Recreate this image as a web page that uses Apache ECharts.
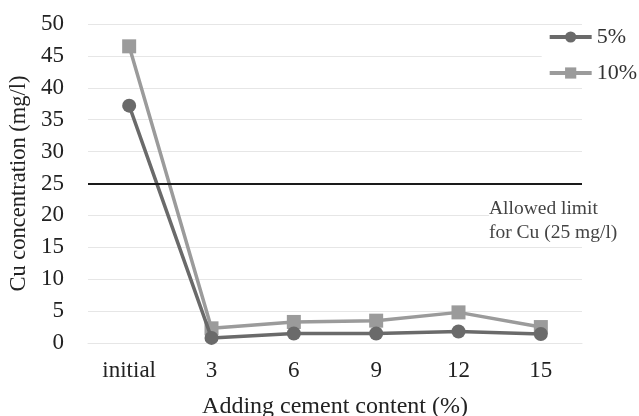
<!DOCTYPE html>
<html><head><meta charset="utf-8">
<script src="https://cdn.jsdelivr.net/npm/echarts@6/dist/echarts.min.js"></script>
<style>html,body{margin:0;padding:0;background:#fff}#c{width:639px;height:416px}</style>
</head><body><div id="c"></div>
<script>
const categories = ['initial', '3', '6', '9', '12', '15'];
const series5 = [37.2, 0.8, 1.5, 1.5, 1.8, 1.4];
const series10 = [46.5, 2.3, 3.3, 3.5, 4.8, 2.5];
const limitValue = 25;
const yTicks = [0, 5, 10, 15, 20, 25, 30, 35, 40, 45, 50];

const font = 'Liberation Serif';
const chart = echarts.init(document.getElementById('c'));
chart.setOption({
  animation: false,
  backgroundColor: '#fff',
  textStyle: { fontFamily: font },
  grid: { left: 88, right: 57, top: 24, bottom: 73, outerBoundsMode: 'none', containLabel: false },
  legend: {
    orient: 'vertical', right: 2, top: 26, itemGap: 14,
    itemWidth: 42, itemHeight: 14,
    lineStyle: { width: 4 },
    textStyle: { fontFamily: font, fontSize: 22, color: '#333' },
    backgroundColor: '#fff', padding: [0, 0, 0, 6],
    data: ['5%', '10%']
  },
  xAxis: {
    type: 'category', data: categories, boundaryGap: true,
    name: 'Adding cement content (%)', nameLocation: 'middle', nameGap: 52,
    nameTextStyle: { fontFamily: font, fontSize: 24, color: '#222' },
    axisLine: { show: true, lineStyle: { color: '#e6e6e6', width: 1 } },
    axisTick: { show: false },
    axisLabel: { fontFamily: font, fontSize: 23, color: '#222', margin: 16 }
  },
  yAxis: {
    type: 'value', min: yTicks[0], max: yTicks[yTicks.length - 1], interval: 5,
    name: 'Cu concentration (mg/l)', nameLocation: 'middle', nameGap: 54,
    nameTextStyle: { fontFamily: font, fontSize: 22.5, color: '#222' },
    axisLine: { show: false }, axisTick: { show: false },
    axisLabel: { fontFamily: font, fontSize: 23, color: '#222', margin: 24 },
    splitLine: { lineStyle: { color: '#e6e6e6', width: 1 } }
  },
  graphic: [{
    type: 'text', left: 489, top: 197, z: 10,
    style: { text: 'Allowed limit\nfor Cu (25 mg/l)', fontFamily: font, fontSize: 19.5, lineHeight: 24, fill: '#444', backgroundColor: '#fff' }
  }],
  series: [
    {
      name: '5%', type: 'line', data: series5, symbol: 'circle', symbolSize: 14,
      lineStyle: { color: '#6a6a6a', width: 3.5 }, itemStyle: { color: '#6a6a6a' },
      z: 3,
      markLine: {
        silent: true, symbol: 'none', label: { show: false },
        lineStyle: { color: '#1a1a1a', width: 2, type: 'solid' },
        data: [{ yAxis: limitValue }]
      }
    },
    {
      name: '10%', type: 'line', data: series10, symbol: 'rect', symbolSize: 14,
      lineStyle: { color: '#9b9b9b', width: 3.5 }, itemStyle: { color: '#9b9b9b' },
      z: 2
    }
  ]
});
</script></body></html>
